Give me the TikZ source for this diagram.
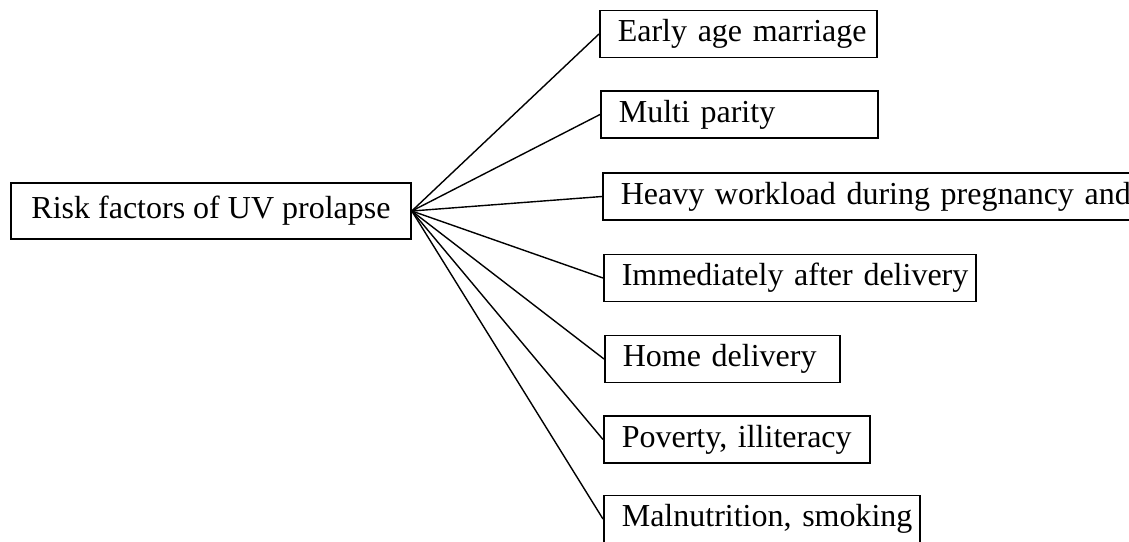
\documentclass[tikz,border=0pt]{standalone}
\usepackage{fontspec}
\setmainfont{Liberation Serif}
\begin{document}
\begin{tikzpicture}[x=0.5pt,y=-0.5pt,
        box/.style={draw,line width=0.8pt,font=\fontsize{16}{19}\selectfont},
        factor/.style={box,anchor=west,inner xsep=2pt,inner ysep=0pt,
            minimum height=23.5pt,text width=#1,align=left,
            execute at begin node={\hspace*{7pt}}}]
    \useasboundingbox (0,0) rectangle (1129,541);
    \clip (0,0) rectangle (1129,541);
    \node[box,minimum width=200pt,minimum height=28pt] (risk) at (211,211) {Risk factors of UV prolapse};
    \node[factor=134.5pt] (early) at (599,34) {Early age marriage};
    \node[factor=134.5pt] (multi) at (600,114.5) {Multi parity};
    \node[factor=296pt] (heavy) at (602,196.5) {Heavy workload during pregnancy and};
    \node[factor=182pt] (immediate) at (603,278) {Immediately after delivery};
    \node[factor=113.5pt] (home) at (604,359) {Home delivery};
    \node[factor=129pt] (poverty) at (603,439.5) {Poverty, illiteracy};
    \node[factor=154pt] (malnutrition) at (603,519) {Malnutrition, smoking};
    \foreach \f in {early,multi,heavy,immediate,home,poverty,malnutrition}
        \draw[line width=0.7pt] (risk.east) -- (\f.west);
\end{tikzpicture}
\end{document}
